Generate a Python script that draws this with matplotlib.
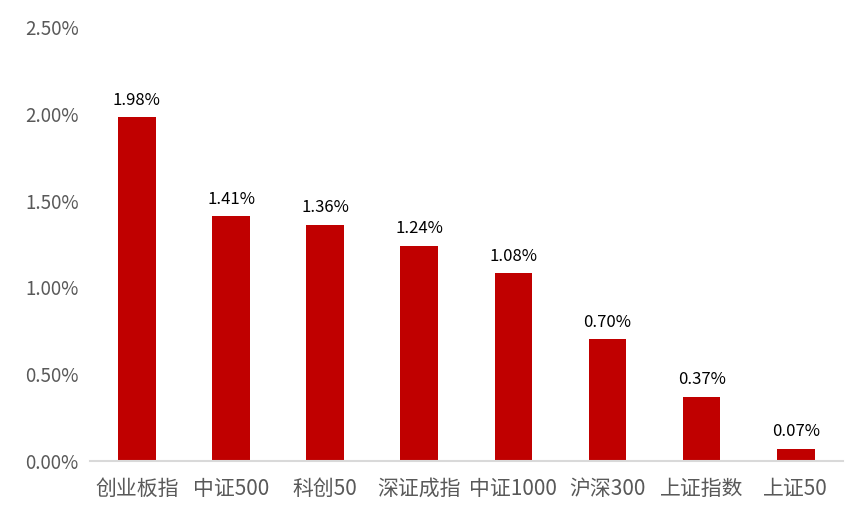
import numpy as np
import matplotlib.pyplot as plt
from matplotlib.ticker import FuncFormatter

plt.rcParams['font.family'] = ['Noto Sans CJK SC', 'DejaVu Sans']

# data
categories = ['创业板指', '中证500', '科创50', '深证成指', '中证1000', '沪深300', '上证指数', '上证50']
values = [1.98, 1.41, 1.36, 1.24, 1.08, 0.70, 0.37, 0.07]

fig = plt.figure(figsize=(8.68, 5.18), dpi=100)
ax = fig.add_axes([0.1035, 0.110, 0.8675, 0.838])

x = np.arange(len(categories))
ax.bar(x, values, width=0.4, color='#C00000', zorder=2)

# value labels above each bar
for xi, v in zip(x, values):
    ax.text(xi, v + 0.05, f'{v:.2f}%', ha='center', va='bottom', fontsize=12, color='black')

ax.set_xlim(-0.5, len(categories) - 0.5)
ax.set_ylim(0, 2.5)
ax.set_yticks(np.arange(0, 2.51, 0.5))
ax.yaxis.set_major_formatter(FuncFormatter(lambda v, p: f'{v:.2f}%'))
ax.set_xticks(x)
ax.set_xticklabels(categories)

ax.tick_params(axis='y', length=0, labelsize=13.5, colors='#595959', pad=8)
ax.tick_params(axis='x', length=0, labelsize=15, colors='#595959', pad=12)

for side in ['top', 'right', 'left']:
    ax.spines[side].set_visible(False)
ax.spines['bottom'].set_color('#D9D9D9')
ax.spines['bottom'].set_linewidth(1.5)

fig.savefig('out.png', dpi=100)
